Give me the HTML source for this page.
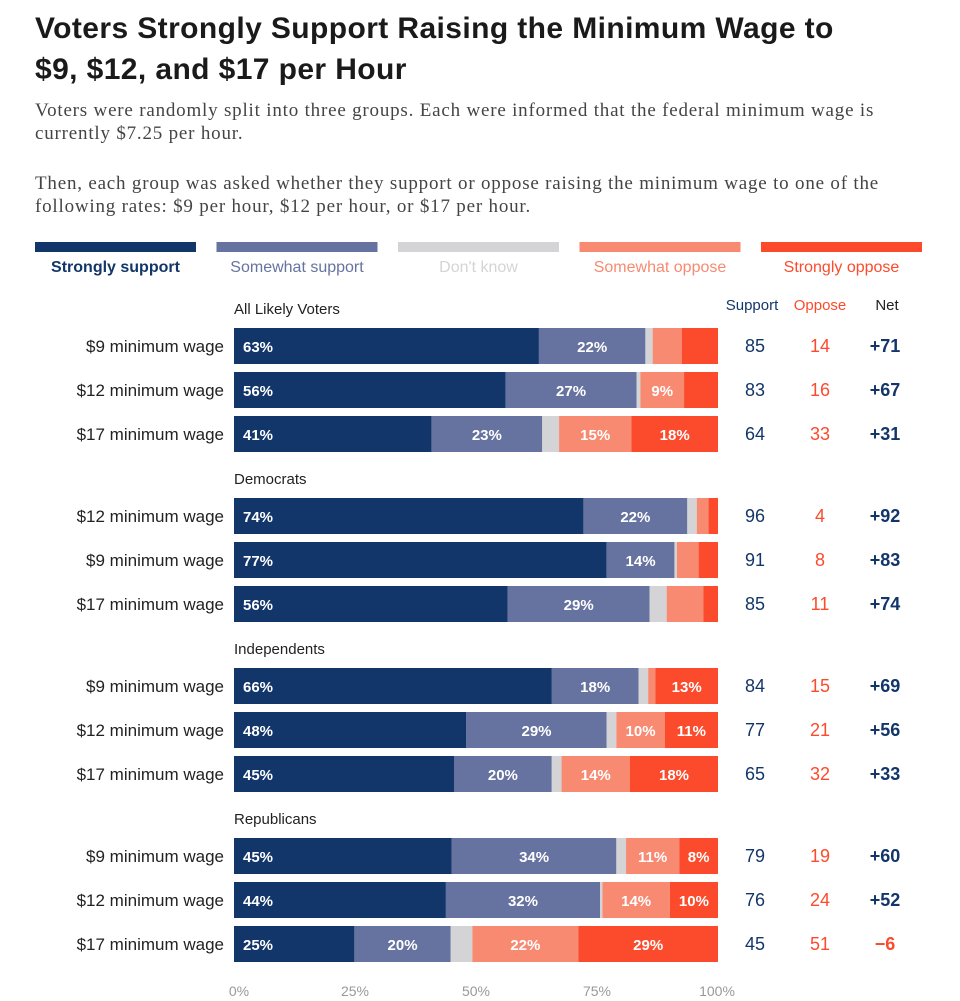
<!DOCTYPE html>
<html><head><meta charset="utf-8"><style>
body{margin:0;background:#fff;width:960px;height:1001px;overflow:hidden;font-family:"Liberation Sans",sans-serif;color:#222}
h1{position:absolute;left:35px;top:8px;margin:0;font-size:30px;line-height:41px;font-weight:bold;color:#1a1a1a;width:845px;letter-spacing:0.4px}
.sub{position:absolute;left:35px;font-family:"Liberation Serif",serif;font-size:19px;line-height:23px;color:#444;width:860px;letter-spacing:0.8px}
</style></head><body>
<h1>Voters Strongly Support Raising the Minimum Wage to $9, $12, and $17 per Hour</h1>
<div class="sub" style="top:99px">Voters were randomly split into three groups. Each were informed that the federal minimum wage is currently $7.25 per hour.</div>
<div class="sub" style="top:172px">Then, each group was asked whether they support or oppose raising the minimum wage to one of the following rates: $9 per hour, $12 per hour, or $17 per hour.</div>
<svg id="c" width="960" height="1001" style="position:absolute;left:0;top:0"></svg>
<script>
const seriesNames=["Strongly support","Somewhat support","Don't know","Somewhat oppose","Strongly oppose"];
const colors=["#13366a","#6673a0","#d4d4d6","#f88a72","#fb4b2c"];
const legendText=["#13366a","#6673a0","#d4d4d6","#f88a72","#fb4b2c"];
const groups=["All Likely Voters","Democrats","Independents","Republicans"];
const rowLabels=["$9 minimum wage","$12 minimum wage","$17 minimum wage","$12 minimum wage","$9 minimum wage","$17 minimum wage","$9 minimum wage","$12 minimum wage","$17 minimum wage","$9 minimum wage","$12 minimum wage","$17 minimum wage"];
const strongSupport=[63,56,41,74,77,56,66,48,45,45,44,25];
const someSupport=[22,27,23,22,14,29,18,29,20,34,32,20];
const dontKnow=[1.5,0.8,3.5,2,0.5,3.5,2,2,2,2,0.5,4.5];
const someOppose=[6,9,15,2.5,4.5,7.5,1.5,10,14,11,14,22];
const strongOppose=[7.5,7,18,2,4,3,13,11,18,8,10,29];
const supportTot=[85,83,64,96,91,85,84,77,65,79,76,45];
const opposeTot=[14,16,33,4,8,11,15,21,32,19,24,51];
const netVals=["+71","+67","+31","+92","+83","+74","+69","+56","+33","+60","+52","−6"];
const ticks=[0,25,50,75,100];
const svg=document.getElementById('c');const NS="http://www.w3.org/2000/svg";
function el(t,a,txt){const e=document.createElementNS(NS,t);for(const k in a)e.setAttribute(k,a[k]);if(txt!=null)e.textContent=txt;svg.appendChild(e);return e;}
const x0=234,x1=718;const xs=p=>x0+(x1-x0)*p/100;
function rowY(i){return 328+Math.floor(i/3)*170+(i%3)*44;}
seriesNames.forEach((n,i)=>{const lx=35+i*181.5;
const r=el('rect',{x:lx,y:242,width:161,height:10,fill:colors[i]});

const t=el('text',{x:lx+80.5,y:272,'text-anchor':'middle','font-size':16,fill:legendText[i],'font-weight':i==0?'bold':'normal'},n);
});
[["Support",752,"#13366a"],["Oppose",820,"#fb4b2c"],["Net",887,"#222"]].forEach(h=>{const t=el('text',{x:h[1],y:310,'text-anchor':'middle','font-size':15,fill:h[2]},h[0]);
});
groups.forEach((g,i)=>{const t=el('text',{x:234,y:314+i*170,'font-size':15,fill:'#222'},g);
});
const data=[strongSupport,someSupport,dontKnow,someOppose,strongOppose];
rowLabels.forEach((lab,i)=>{const y=rowY(i);
const t=el('text',{x:224,y:y+24,'text-anchor':'end','font-size':17,fill:'#222'},lab);

const tot=data.reduce((s,a)=>s+a[i],0);let acc=0;
data.forEach((arr,k)=>{const v=arr[i]*100/tot;const xa=xs(acc),xb=xs(acc+v);acc+=v;
const r=el('rect',{x:xa,y:y,width:Math.max(0,xb-xa),height:36,fill:colors[k]});

if(arr[i]>=8){const tx=el('text',{x:k==0?xa+9:(xa+xb)/2,y:y+24,'text-anchor':k==0?'start':'middle','font-size':15,'font-weight':'bold',fill:'#fff'},Math.round(arr[i])+'%');
}});
const a=el('text',{x:755,y:y+24,'text-anchor':'middle','font-size':18,fill:'#13366a'},supportTot[i]);

const b=el('text',{x:820,y:y+24,'text-anchor':'middle','font-size':18,fill:'#fb4b2c'},opposeTot[i]);

const n=el('text',{x:885,y:y+24,'text-anchor':'middle','font-size':18,'font-weight':'bold',fill:netVals[i].startsWith('−')?'#fb4b2c':'#13366a'},netVals[i]);
});
ticks.forEach(v=>{const t=el('text',{x:v==0?xs(v)+5:v==100?xs(v)-1:xs(v),y:996,'text-anchor':'middle','font-size':14,fill:'#999'},v+'%');
});
</script>
</body></html>
